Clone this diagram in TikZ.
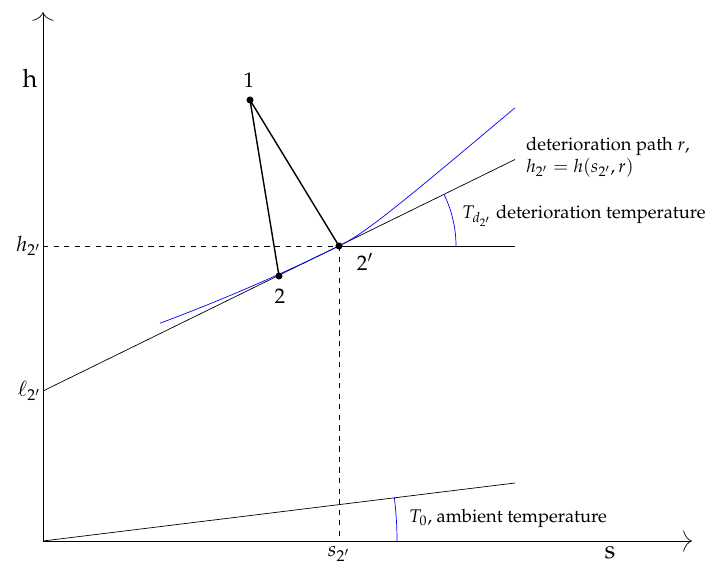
\documentclass[tikz,border=0pt]{standalone}
\usepackage[T1]{fontenc}
\usepackage{mathpazo}
\usetikzlibrary{arrows.meta,calc,positioning}

\begin{document}
\begin{tikzpicture}[
    axis/.style={-{To[length=5pt,width=12pt]}},
    dot/.style={circle, fill, inner sep=0pt, minimum size=4pt},
    guide/.style={dashed},
    angarc/.style={blue},
    txt/.style={font=\fontsize{10.4}{12.6}\selectfont},
    ticklabel/.style={font=\large, inner sep=0pt},
    ptlabel/.style={font=\large, inner sep=1pt},
    axlabel/.style={font=\Large, inner sep=1pt},
]
    \useasboundingbox (-0.86,-0.52) rectangle (13.34,10.82);
    % axes
    \coordinate (O) at (0,0);
    \coordinate (ytop) at (0,10.58);
    \coordinate (xend) at (12.98,0);
    \draw[axis] (O) -- (ytop);
    \draw[axis] (O) -- (xend);
    \node[axlabel] (hlab) at (-0.26,9.26) {h};
    \node[axlabel] (slab) at (11.34,-0.24) {s};

    % states
    \coordinate (p1) at (4.14,8.82);
    \coordinate (p2) at (4.72,5.30);
    \coordinate (p2p) at (5.92,5.90);
    \coordinate (l2p) at (0,3.0);
    \coordinate (tend) at (9.44,7.63);
    \coordinate (hend) at (9.44,5.90);
    \coordinate (aend) at (9.44,1.16);

    % guides to the axes
    \draw[guide] (0,5.90) -- (p2p);
    \draw[guide] (p2p) -- (5.92,0);
    \node[ticklabel, left=1pt of {(0,5.90)}] (hlbl) {$h_{2'}$};
    \node[ticklabel, left=1pt of l2p] (llbl) {$\ell_{2'}$};
    \node[ticklabel, below=3pt of {(5.92,0)}] (slbl) {$s_{2'}$};

    % deterioration path and tangent
    \draw (p2p) -- (hend);
    \draw (l2p) -- (tend);
    \draw[blue, samples=50]
        plot[domain=2.34:5.92] (\x, {5.90+0.49*(\x-5.92)+0.0164*(\x-5.92)^2})
        -- plot[domain=5.92:9.44] (\x, {5.90+0.49*(\x-5.92)+0.36*(sqrt((\x-5.92)^2+0.49)-0.7)});
    \draw[angarc] ($(p2p)+(2.34,0)$) arc[start angle=0, end angle=26.1, radius=2.34];
    \node[txt, anchor=west, align=left] (pathlbl) at (9.54,7.68)
         {deterioration path $r$,\\$h_{2'} = h(s_{2'},r)$};
    \node[txt, anchor=west] (tdlbl) at (8.26,6.5) {$T_{d_{2'}}$ deterioration temperature};

    % ambient
    \draw (O) -- (aend);
    \draw[angarc] (7.08,0) arc[start angle=0, end angle=7.0, radius=7.08];
    \node[txt, anchor=west] (t0lbl) at (7.2,0.46) {$T_0$, ambient temperature};

    % process
    \draw[thick] (p2) -- (p1) -- (p2p);
    \node[dot] at (p1) {};
    \node[dot] at (p2) {};
    \node[dot] at (p2p) {};
    \node[ptlabel] (n1) at (4.12,9.22) {1};
    \node[ptlabel] (n2) at (4.74,4.90) {2};
    \node[ptlabel] (n2p) at (6.44,5.58) {2$'$};
\end{tikzpicture}
\end{document}
